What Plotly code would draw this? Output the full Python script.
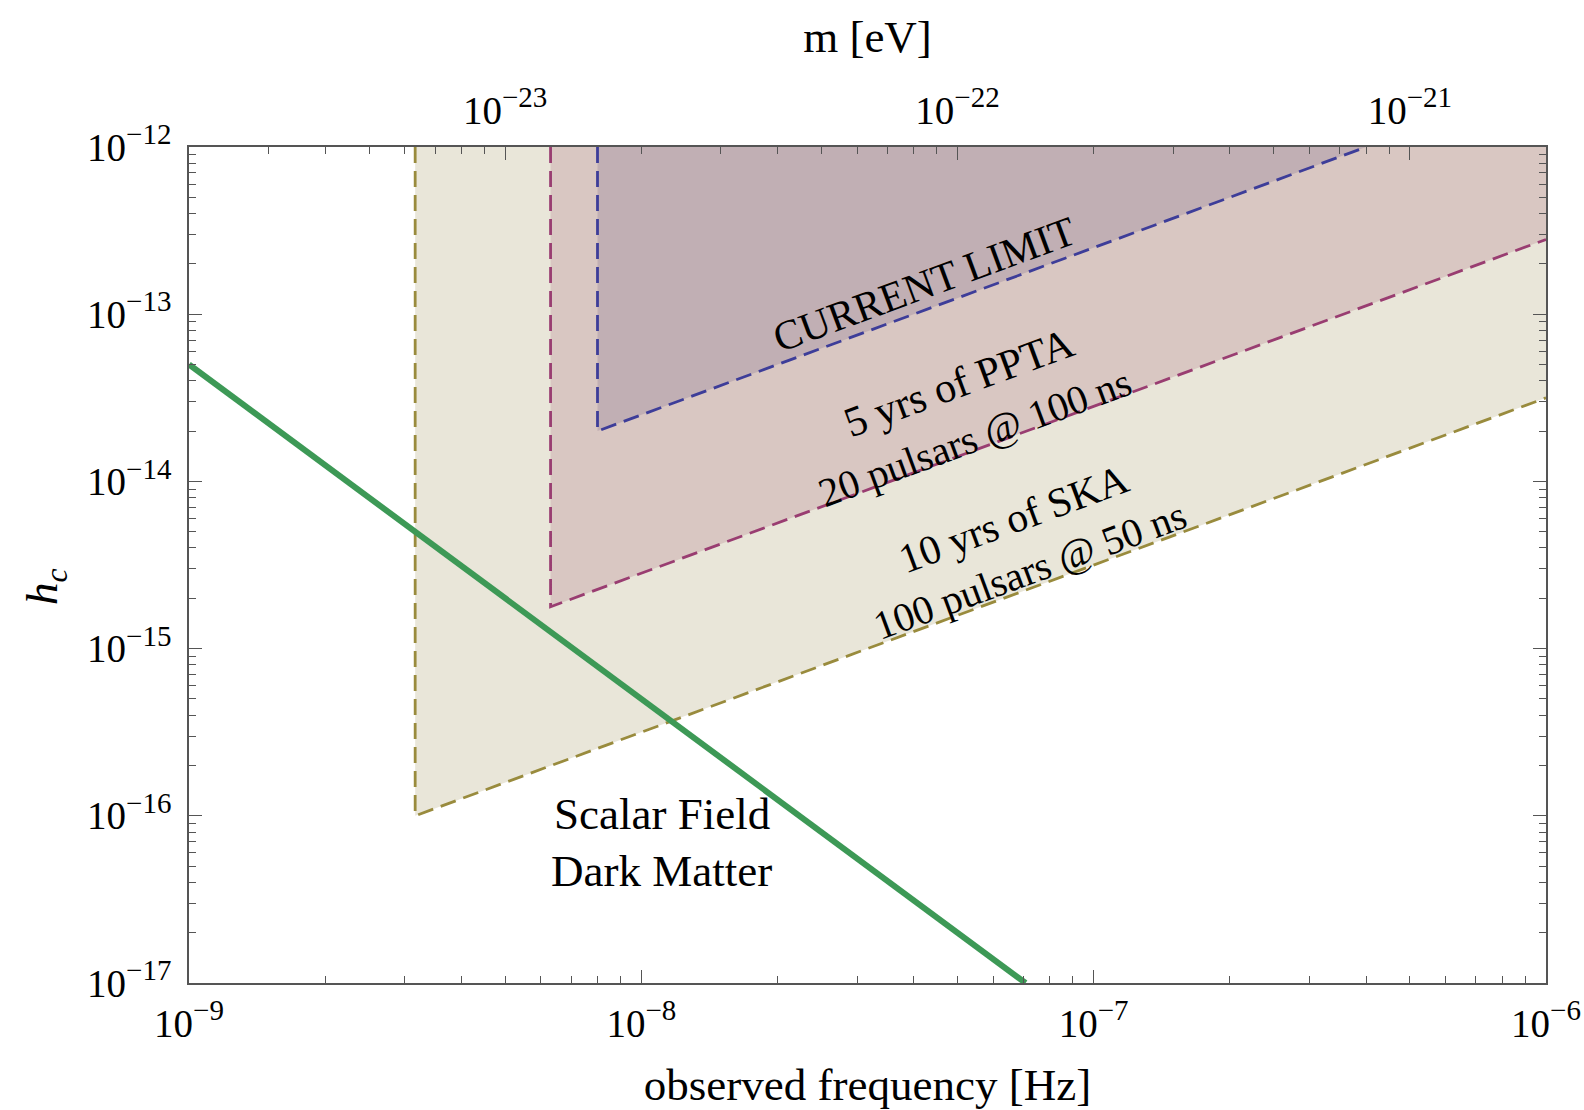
import math
import plotly.graph_objects as go

# ---------------- data ----------------
# frequency axis [Hz] and strain axis
f_range = [1e-9, 1e-6]
h_range = [1e-17, 1e-12]

# SKA sensitivity region (10 yrs, 100 pulsars @ 50 ns)
ska_f = [10 ** -8.5, 10 ** -8.5, 1e-6]
ska_h = [1e-12, 1e-16, 3.16e-14]

# PPTA sensitivity region (5 yrs, 20 pulsars @ 100 ns)
ppta_f = [6.3e-9, 6.3e-9, 1e-6]
ppta_h = [1e-12, 1.78e-15, 2.8e-13]

# current limit
cur_f = [8.0e-9, 8.0e-9, 4.0e-7]
cur_h = [1e-12, 2.0e-14, 1e-12]

# scalar field dark matter signal
sfdm_f = [1e-9, 7.07e-8]
sfdm_h = [5e-14, 1e-17]

# tick values
f_ticks = [1e-9, 1e-8, 1e-7, 1e-6]
f_exps = ["9", "8", "7", "6"]
h_ticks = [1e-17, 1e-16, 1e-15, 1e-14, 1e-13, 1e-12]
h_exps = ["17", "16", "15", "14", "13", "12"]
m_ticks = [1e-23, 1e-22, 1e-21]
m_exps = ["23", "22", "21"]
ev_per_hz = 2e-15  # m [eV] = ev_per_hz * f [Hz]

# ---------------- styling ----------------
FONT = "Liberation Serif, Times New Roman, serif"
C_BLUE = "rgb(61,61,153)"
C_MAG = "rgb(153,61,113)"
C_OLIVE = "rgb(153,139,61)"
C_GREEN = "rgb(61,153,86)"
F_SKA = "#E9E6D9"
F_PPTA = "#D9C7C2"
F_CUR = "#C1AFB4"
AXC = "#555555"
DASH = "16px,8px"
TICK_SIZE = 39
SUP_SIZE = 29


def pow10_label(e):
    return "10<sup><span style='font-size:%dpx'>−%s</span></sup>" % (SUP_SIZE, e)


def minor_vals(lo_exp, hi_exp, scale=1.0):
    out = []
    for e in range(lo_exp, hi_exp):
        for k in range(2, 10):
            out.append(k * 10.0 ** e * scale)
    return out


fig = go.Figure()


def region(fx, fy, fill):
    # close polygon along the top/right edge of the plot
    xs = list(fx) + [f_range[1]] + [fx[0]]
    ys = list(fy) + [h_range[1]] + [fy[0]]
    fig.add_trace(go.Scatter(x=xs, y=ys, mode="lines", fill="toself",
                             fillcolor=fill, line=dict(width=0),
                             hoverinfo="skip", showlegend=False))


region(ska_f, ska_h, F_SKA)
region(ppta_f, ppta_h, F_PPTA)
region(cur_f, cur_h, F_CUR)

for fx, fy, col in [(ska_f, ska_h, C_OLIVE), (ppta_f, ppta_h, C_MAG), (cur_f, cur_h, C_BLUE)]:
    fig.add_trace(go.Scatter(x=fx, y=fy, mode="lines",
                             line=dict(color=col, width=2.8, dash=DASH),
                             hoverinfo="skip", showlegend=False))

fig.add_trace(go.Scatter(x=sfdm_f, y=sfdm_h, mode="lines",
                         line=dict(color=C_GREEN, width=6),
                         hoverinfo="skip", showlegend=False))

# invisible trace to activate the top mass axis
fig.add_trace(go.Scatter(x=[m_ticks[1]], y=[1e-15], xaxis="x2", mode="markers",
                         marker=dict(opacity=0), hoverinfo="skip", showlegend=False))

# ---------------- annotations ----------------
ang = -math.degrees(math.atan(167.3 / 452.3))
annos = [
    ("CURRENT LIMIT", -7.373, -12.818, 41.5, ang),
    ("5 yrs of PPTA", -7.299, -13.406, 42.5, ang),
    ("20 pulsars @ 100 ns", -7.262, -13.735, 40.5, ang),
    ("10 yrs of SKA", -7.178, -14.222, 41.5, ang),
    ("100 pulsars @ 50 ns", -7.141, -14.531, 40.5, ang),
    ("Scalar Field", -7.955, -15.991, 45, 0),
    ("Dark Matter", -7.955, -16.329, 45, 0),
]
for txt, lx, ly, sz, a in annos:
    fig.add_annotation(x=lx, y=ly, xref="x", yref="y", text=txt, showarrow=False,
                       textangle=a, font=dict(family=FONT, size=sz, color="black"),
                       xanchor="center", yanchor="middle")

# y-axis title placed as an annotation (slightly below axis centre, as in reference)
fig.add_annotation(x=-0.106, y=0.474, xref="paper", yref="paper",
                   text="<i>h<sub>c</sub></i>", showarrow=False, textangle=-90,
                   font=dict(family=FONT, size=45, color="black"),
                   xanchor="center", yanchor="middle")

# ---------------- axes ----------------
common = dict(showgrid=False, zeroline=False, showline=True, linecolor=AXC,
              linewidth=1.5, ticks="inside", ticklen=13, tickwidth=1.3,
              tickcolor=AXC, automargin=False,
              tickfont=dict(family=FONT, size=TICK_SIZE, color="black"))
minor_common = dict(ticks="inside", ticklen=7, tickwidth=1.1, tickcolor=AXC,
                    tickmode="array")

fig.update_layout(
    width=1584, height=1110, autosize=False,
    margin=dict(l=189, r=38, t=147, b=127, pad=0),
    plot_bgcolor="white", paper_bgcolor="white",
    font=dict(family=FONT, color="black"),
    xaxis=dict(type="log", range=[math.log10(f_range[0]), math.log10(f_range[1])],
               tickmode="array", tickvals=f_ticks,
               ticktext=[pow10_label(e) for e in f_exps],
               mirror=False, ticklabelstandoff=5,
               minor=dict(tickvals=minor_vals(-9, -6), **minor_common),
               title=dict(text="observed frequency [Hz]", font=dict(family=FONT, size=45),
                          standoff=26),
               **common),
    xaxis2=dict(type="log", overlaying="x", side="top",
                range=[math.log10(f_range[0] * ev_per_hz), math.log10(f_range[1] * ev_per_hz)],
                tickmode="array", tickvals=m_ticks,
                ticktext=[pow10_label(e) for e in m_exps],
                ticklabelstandoff=6,
                minor=dict(tickvals=minor_vals(-24, -20), **minor_common),
                title=dict(text="m [eV]", font=dict(family=FONT, size=45), standoff=15),
                **common),
    yaxis=dict(type="log", range=[math.log10(h_range[0]), math.log10(h_range[1])],
               tickmode="array", tickvals=h_ticks,
               ticktext=[pow10_label(e) for e in h_exps],
               mirror="ticks", ticklabelstandoff=8,
               minor=dict(tickvals=minor_vals(-17, -12), **minor_common),
               **common),
)

fig.write_html("out.html")
